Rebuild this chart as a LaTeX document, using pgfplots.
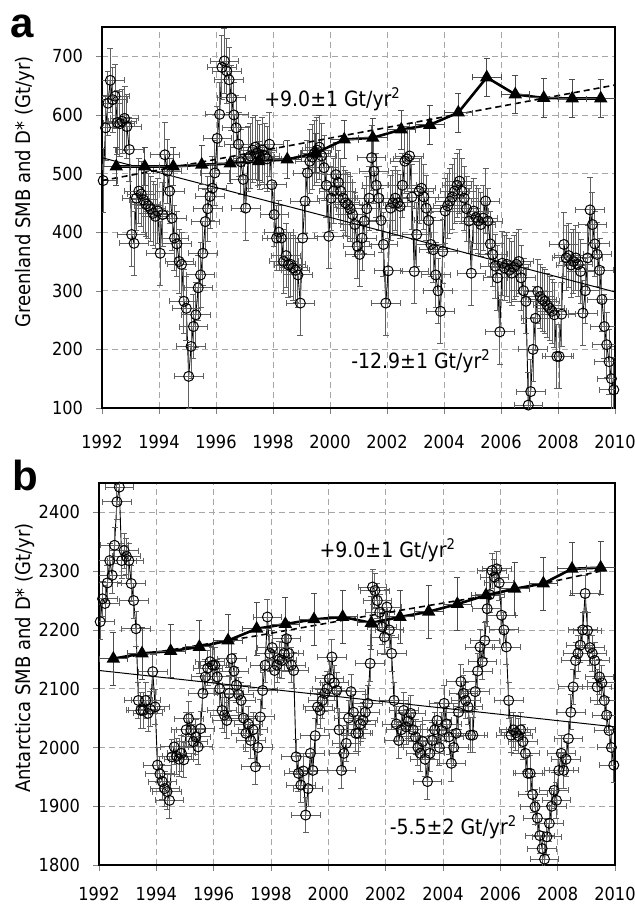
\documentclass[border=0pt]{standalone}
\usepackage{fontspec}
\setmainfont{DejaVu Sans Condensed}
\newfontfamily\panelfont{Liberation Sans}
\usepackage{pgfplots}
\usepackage{pgfplotstable}
\pgfplotsset{compat=1.18}

% monthly SMB - D values, one line per year (Jan..Dec)
\pgfplotstableread[row sep=\\]{
v \\
488 \\ 578 \\ 620 \\ 659 \\ 626 \\ 632 \\ 587 \\ 585 \\ 589 \\ 594 \\ 580 \\ 541 \\
396 \\ 381 \\ 458 \\ 470 \\ 465 \\ 455 \\ 448 \\ 445 \\ 440 \\ 432 \\ 427 \\ 436 \\
364 \\ 430 \\ 532 \\ 504 \\ 470 \\ 424 \\ 390 \\ 380 \\ 350 \\ 345 \\ 282 \\ 270 \\
154 \\ 205 \\ 239 \\ 259 \\ 305 \\ 327 \\ 364 \\ 418 \\ 440 \\ 461 \\ 475 \\ 501 \\
560 \\ 601 \\ 681 \\ 692 \\ 675 \\ 660 \\ 629 \\ 600 \\ 578 \\ 550 \\ 520 \\ 490 \\
441 \\ 525 \\ 530 \\ 540 \\ 545 \\ 535 \\ 528 \\ 540 \\ 530 \\ 525 \\ 550 \\ 481 \\
430 \\ 390 \\ 400 \\ 390 \\ 350 \\ 360 \\ 344 \\ 345 \\ 339 \\ 335 \\ 327 \\ 279 \\
390 \\ 453 \\ 501 \\ 521 \\ 528 \\ 535 \\ 540 \\ 545 \\ 530 \\ 510 \\ 480 \\ 393 \\
458 \\ 470 \\ 498 \\ 485 \\ 470 \\ 458 \\ 450 \\ 447 \\ 440 \\ 430 \\ 413 \\ 376 \\
362 \\ 390 \\ 419 \\ 440 \\ 458 \\ 527 \\ 504 \\ 480 \\ 458 \\ 420 \\ 379 \\ 279 \\
334 \\ 441 \\ 450 \\ 458 \\ 450 \\ 444 \\ 480 \\ 521 \\ 525 \\ 530 \\ 460 \\ 333 \\
396 \\ 470 \\ 475 \\ 460 \\ 441 \\ 420 \\ 379 \\ 370 \\ 327 \\ 300 \\ 265 \\ 367 \\
436 \\ 445 \\ 453 \\ 460 \\ 470 \\ 480 \\ 487 \\ 470 \\ 458 \\ 440 \\ 419 \\ 330 \\
436 \\ 425 \\ 419 \\ 413 \\ 424 \\ 453 \\ 419 \\ 380 \\ 362 \\ 342 \\ 322 \\ 230 \\
347 \\ 339 \\ 345 \\ 335 \\ 330 \\ 340 \\ 345 \\ 350 \\ 322 \\ 300 \\ 282 \\ 105 \\
128 \\ 200 \\ 253 \\ 299 \\ 290 \\ 285 \\ 282 \\ 275 \\ 270 \\ 265 \\ 259 \\ 188 \\
188 \\ 260 \\ 379 \\ 356 \\ 360 \\ 344 \\ 350 \\ 356 \\ 345 \\ 333 \\ 262 \\ 300 \\
356 \\ 438 \\ 413 \\ 380 \\ 362 \\ 335 \\ 285 \\ 239 \\ 208 \\ 179 \\ 150 \\ 131 \\
}\greenland

\pgfplotstableread[row sep=\\]{
v \\
2214 \\ 2253 \\ 2245 \\ 2280 \\ 2318 \\ 2293 \\ 2344 \\ 2418 \\ 2443 \\ 2318 \\ 2335 \\ 2325 \\
2318 \\ 2279 \\ 2250 \\ 2202 \\ 2080 \\ 2063 \\ 2063 \\ 2080 \\ 2058 \\ 2065 \\ 2129 \\ 2069 \\
1970 \\ 1955 \\ 1942 \\ 1930 \\ 1925 \\ 1910 \\ 1984 \\ 2001 \\ 1985 \\ 1980 \\ 1990 \\ 1979 \\
2030 \\ 2049 \\ 2030 \\ 2010 \\ 2018 \\ 2001 \\ 2032 \\ 2092 \\ 2120 \\ 2135 \\ 2146 \\ 2140 \\
2140 \\ 2120 \\ 2100 \\ 2063 \\ 2055 \\ 2046 \\ 2092 \\ 2151 \\ 2130 \\ 2106 \\ 2090 \\ 2080 \\
2050 \\ 2024 \\ 2040 \\ 2012 \\ 2030 \\ 1967 \\ 2000 \\ 2052 \\ 2097 \\ 2140 \\ 2222 \\ 2160 \\
2170 \\ 2131 \\ 2140 \\ 2150 \\ 2148 \\ 2160 \\ 2185 \\ 2160 \\ 2140 \\ 2131 \\ 1984 \\ 1956 \\
1936 \\ 1960 \\ 1885 \\ 1930 \\ 1990 \\ 1961 \\ 2020 \\ 2069 \\ 2063 \\ 2080 \\ 2092 \\ 2100 \\
2117 \\ 2154 \\ 2110 \\ 2097 \\ 2030 \\ 1961 \\ 1990 \\ 2007 \\ 2050 \\ 2095 \\ 2060 \\ 2024 \\
2024 \\ 2040 \\ 2046 \\ 2060 \\ 2075 \\ 2143 \\ 2273 \\ 2267 \\ 2250 \\ 2230 \\ 2205 \\ 2188 \\
2239 \\ 2200 \\ 2160 \\ 2080 \\ 2040 \\ 2012 \\ 2030 \\ 2063 \\ 2035 \\ 2045 \\ 2058 \\ 2030 \\
2018 \\ 2000 \\ 1990 \\ 2010 \\ 1980 \\ 1942 \\ 1990 \\ 2012 \\ 2030 \\ 2046 \\ 2000 \\ 2029 \\
2075 \\ 2040 \\ 2018 \\ 1973 \\ 2000 \\ 2024 \\ 2060 \\ 2112 \\ 2092 \\ 2080 \\ 2069 \\ 2021 \\
2021 \\ 2095 \\ 2130 \\ 2171 \\ 2146 \\ 2182 \\ 2236 \\ 2260 \\ 2301 \\ 2290 \\ 2304 \\ 2280 \\
2225 \\ 2200 \\ 2171 \\ 2080 \\ 2021 \\ 2030 \\ 2025 \\ 2020 \\ 2030 \\ 2010 \\ 1990 \\ 1956 \\
1956 \\ 1920 \\ 1899 \\ 1880 \\ 1850 \\ 1828 \\ 1810 \\ 1848 \\ 1871 \\ 1900 \\ 1927 \\ 1910 \\
1961 \\ 1990 \\ 1961 \\ 1980 \\ 2015 \\ 2060 \\ 2103 \\ 2148 \\ 2160 \\ 2174 \\ 2200 \\ 2262 \\
2199 \\ 2170 \\ 2160 \\ 2148 \\ 2103 \\ 2120 \\ 2110 \\ 2080 \\ 2055 \\ 2029 \\ 2000 \\ 1970 \\
}\antarctica

% annual discharge D*
\pgfplotstableread{
t      a    b
1992.5 512  2151
1993.5 512  2160
1994.5 512  2164
1995.5 515  2171
1996.5 517  2182
1997.5 521  2202
1998.5 524  2210
1999.5 535  2218
2000.5 558  2222
2001.5 561  2212
2002.5 575  2222
2003.5 583  2231
2004.5 604  2244
2005.5 664  2259
2006.5 635  2270
2007.5 629  2279
2008.5 628  2304
2009.5 628  2306
}\discharge

\pgfplotsset{
  panel/.style={
    scale only axis,
    xmin=1992, xmax=2010,
    xtick={1992,1994,...,2010},
    tick align=outside, tick pos=left,
    major tick length=3pt,
    axis line style={line width=0.8pt},
    grid=major,
    grid style={dash pattern=on 3pt off 2pt, gray!70, line width=0.4pt},
    tick label style={font=\fontsize{9}{10}\selectfont},
    yticklabel style={xshift=-3pt},
    /pgf/number format/assume math mode=true,
    /pgf/number format/1000 sep={},
    ylabel style={font=\fontsize{10.5}{12}\selectfont},
  },
  monthly/.style={
    black, line width=0.45pt, mark=o, mark size=2.5pt,
    mark options={line width=0.5pt},
    error bars/.cd, x dir=both, x fixed=0.5, y dir=both, y fixed=#1,
    error bar style={black!62, line width=0.45pt},
    error mark options={rotate=90, mark size=1.5pt, black!62},
  },
  annual/.style={
    black, line width=1.3pt, mark=triangle*, mark size=2.6pt,
    error bars/.cd, x dir=both, x fixed=0.5, y dir=both, y fixed=#1,
    error bar style={black!70, line width=0.5pt},
    error mark options={rotate=90, mark size=1.5pt, black!70},
  },
}

\begin{document}
\begin{tikzpicture}
\useasboundingbox (0,0) rectangle (317.5pt,-452pt);

\begin{axis}[panel,
  at={(51pt,-13.5pt)}, anchor=north west,
  width=256.5pt, height=190.5pt,
  ymin=100, ymax=750, ytick={100,200,...,700},
  xticklabel style={yshift=-7pt},
  ylabel={Greenland SMB and D* (Gt/yr)},
  every axis y label/.style={at={(axis description cs:-0.15,0.567)}, rotate=90, anchor=center},
]
\addplot[monthly=55] table[x expr={1992+(\coordindex+0.5)/12}, y=v] {\greenland};
\addplot[black, line width=0.5pt] coordinates {(1992,527) (2010,298)};
\addplot[black, line width=0.8pt, dash pattern=on 3pt off 2pt] coordinates {(1992,488) (2010,651)};
\addplot[annual=33] table[x=t, y=a] {\discharge};
\node[anchor=west, font=\fontsize{10.5}{12}\selectfont] at (axis cs:1997.45,626) {+9.0±1 Gt/yr\textsuperscript{2}};
\node[anchor=west, font=\fontsize{10.5}{12}\selectfont] at (axis cs:2000.5,179) {-12.9±1 Gt/yr\textsuperscript{2}};
\end{axis}

\begin{axis}[panel,
  at={(49.5pt,-241.5pt)}, anchor=north west,
  width=258pt, height=191pt,
  ymin=1800, ymax=2450, ytick={1800,1900,...,2400},
  xticklabel style={yshift=-4.5pt},
  ylabel={Antarctica SMB and D* (Gt/yr)},
  every axis y label/.style={at={(axis description cs:-0.144,0.542)}, rotate=90, anchor=center},
]
\addplot[monthly=30] table[x expr={1992+(\coordindex+0.5)/12}, y=v] {\antarctica};
\addplot[black, line width=0.5pt] coordinates {(1992,2131) (2010,2035)};
\addplot[black, line width=0.8pt, dash pattern=on 3pt off 2pt] coordinates {(1992.5,2150) (1997.5,2190) (2001.5,2225) (2005.5,2258) (2009.5,2300)};
\addplot[annual=45] table[x=t, y=b] {\discharge};
\node[anchor=west, font=\fontsize{10.5}{12}\selectfont] at (axis cs:1999.45,2335) {+9.0±1 Gt/yr\textsuperscript{2}};
\node[anchor=west, font=\fontsize{10.5}{12}\selectfont] at (axis cs:2001.9,1864) {-5.5±2 Gt/yr\textsuperscript{2}};
\end{axis}

\node[anchor=base west, inner sep=0pt, font=\panelfont\bfseries\fontsize{21}{21}\selectfont] at (5pt,-19pt) {a};
\node[anchor=base west, inner sep=0pt, font=\panelfont\bfseries\fontsize{21}{21}\selectfont] at (6pt,-245pt) {b};
\end{tikzpicture}
\end{document}
